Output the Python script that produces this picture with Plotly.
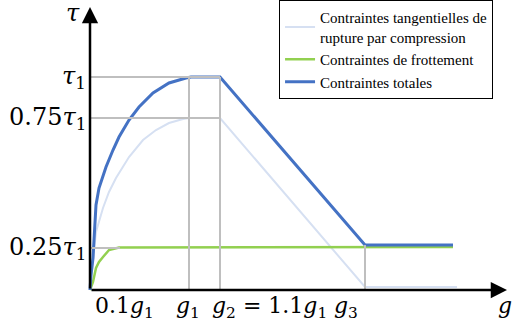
import plotly.graph_objects as go

# points (x : distance a l'origine, y : hauteur au-dessus de l'axe)
x_comp = [0, 1, 3, 6, 13, 19, 26, 39, 53, 66, 79, 93, 99, 130, 275, 367]
y_comp = [0, 12, 30, 58, 82, 98, 112, 133, 150, 160, 167, 171, 172, 172, 3, 3]

x_frot = [0, 1, 3, 6, 9, 13, 19, 29, 363]
y_frot = [0, 3, 8, 22, 28, 33, 40, 42.5, 43]

x_tot = [0, 1, 3, 5, 6, 9, 13, 16, 23, 29, 39, 49, 63, 79, 96, 101, 130, 275, 363]
y_tot = [0, 15, 32, 65, 85, 102, 115, 123, 140, 153, 170, 183, 197, 207, 212, 213, 213, 45, 45]

noms = ["Contraintes tangentielles de<br>rupture par compression",
        "Contraintes de frottement",
        "Contraintes totales"]
couleurs = ["#D6E0F2", "#92D050", "#4472C4"]
epaisseurs = [2, 2.5, 3]

# niveaux et positions schematiques
g1, g2, g3 = 99, 130, 275
tau1, tau075, tau025 = 213, 172, 42
y_labels = ["<i>τ</i><sub>1</sub>", "0.75<i>τ</i><sub>1</sub>", "0.25<i>τ</i><sub>1</sub>"]
y_pos = [tau1, tau075, tau025]
x_labels = ["0.1<i>g</i><sub>1</sub>", "<i>g</i><sub>1</sub>",
            "<i>g</i><sub>2</sub> = 1.1<i>g</i><sub>1</sub>", "<i>g</i><sub>3</sub>"]
x_pos = [34, 98, 179, 256]

fig = go.Figure()
gris = "#BFBFBF"
for x0, y0, x1, y1 in [(0, tau1, g2, tau1), (0, tau075, g2, tau075), (0, tau025, 30, tau025),
                       (g1, 0, g1, tau1), (g2, 0, g2, tau1), (g3, 0, g3, 45)]:
    fig.add_shape(type="line", x0=x0, y0=y0, x1=x1, y1=y1, line=dict(color=gris, width=2))

for xs, ys, n, c, w in zip([x_comp, x_frot, x_tot], [y_comp, y_frot, y_tot], noms, couleurs, epaisseurs):
    fig.add_trace(go.Scatter(x=xs, y=ys, mode="lines", name=n, line=dict(color=c, width=w)))

# axes avec fleches
fig.add_annotation(x=417, y=0, ax=0, ay=0, xref="x", yref="y", axref="x", ayref="y",
                   showarrow=True, arrowhead=2, arrowsize=1.3, arrowwidth=2.5, arrowcolor="black", text="")
fig.add_annotation(x=0, y=283, ax=0, ay=0, xref="x", yref="y", axref="x", ayref="y",
                   showarrow=True, arrowhead=2, arrowsize=1.3, arrowwidth=2.5, arrowcolor="black", text="")

police = dict(family="DejaVu Serif", size=24, color="black")
police_bas = dict(family="DejaVu Serif", size=22, color="black")
for t, yp in zip(y_labels, y_pos):
    fig.add_annotation(x=-2, y=yp, xref="x", yref="y", text=t, showarrow=False,
                       xanchor="right", yanchor="middle", font=police)
for t, xp in zip(x_labels, x_pos):
    fig.add_annotation(x=xp, y=-1, xref="x", yref="y", text=t, showarrow=False,
                       xanchor="center", yanchor="top", font=police_bas)
fig.add_annotation(x=-17, y=277, xref="x", yref="y", text="<i>τ</i>", showarrow=False,
                   xanchor="center", yanchor="middle", font=police)
fig.add_annotation(x=406, y=-1, xref="x", yref="y", text="<i>g</i>", showarrow=False,
                   xanchor="left", yanchor="top", font=police_bas)

fig.update_layout(
    width=512, height=327,
    margin=dict(l=0, r=0, t=0, b=0),
    plot_bgcolor="white", paper_bgcolor="white",
    showlegend=True,
    legend=dict(x=0.545, y=1.0, xanchor="left", yanchor="top",
                bordercolor="black", borderwidth=1, bgcolor="white",
                font=dict(family="Liberation Serif", size=15, color="black"),
                itemwidth=30),
)
fig.update_xaxes(range=[-90, 422], visible=False)
fig.update_yaxes(range=[-37, 290], visible=False)
fig.write_html("out.html", config={"displayModeBar": False},
               post_script="document.body.style.margin='0';")
